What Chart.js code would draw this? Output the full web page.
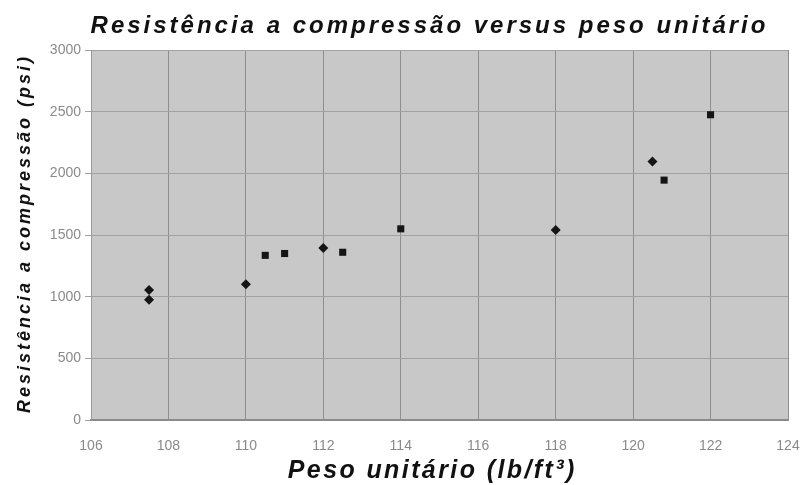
<!DOCTYPE html>
<html>
<head>
<meta charset="utf-8">
<script src="https://cdn.jsdelivr.net/npm/chart.js@4/dist/chart.umd.min.js"></script>
<style>
  html, body { margin: 0; padding: 0; background: #ffffff; }
  #wrap { width: 800px; height: 485px; position: relative; }
  canvas { display: block; }
</style>
</head>
<body>
<div id="wrap"><canvas id="chart" width="800" height="485"></canvas></div>
<script>
// Peso unitário (lb/ft³) e resistência (psi) de cada corpo de prova
const seriesAX = [107.5, 107.5, 110.0, 112.0, 118.0, 120.5];
const seriesAY = [1055, 975, 1100, 1395, 1540, 2095];
const seriesBX = [110.5, 111.0, 112.5, 114.0, 120.8, 122.0];
const seriesBY = [1335, 1350, 1360, 1550, 1945, 2475];

const xTickValues = [106, 108, 110, 112, 114, 116, 118, 120, 122, 124];
const yTickValues = [0, 500, 1000, 1500, 2000, 2500, 3000];

const chartTitle = 'Resistência a compressão versus peso unitário';
const xTitle = 'Peso unitário (lb/ft³)';
const yTitle = 'Resistência a compressão (psi)';

const toPoints = (xs, ys) => xs.map((x, i) => ({ x: x, y: ys[i] }));

// Fundo cinza da área de plotagem
const plotBackground = {
  id: 'plotBackground',
  beforeDraw(chart) {
    const { ctx, chartArea: a } = chart;
    ctx.save();
    ctx.fillStyle = '#c8c8c8';
    ctx.fillRect(a.left, a.top, a.right - a.left, a.bottom - a.top);
    ctx.restore();
  }
};

// Títulos em itálico negrito com espaçamento entre letras
const spacedTitles = {
  id: 'spacedTitles',
  afterDraw(chart) {
    const { ctx, chartArea: a } = chart;
    const draw = (text, font, spacing, x, y, rot) => {
      ctx.save();
      ctx.font = font;
      ctx.letterSpacing = spacing + 'px';
      ctx.fillStyle = '#111111';
      ctx.textAlign = 'center';
      ctx.textBaseline = 'alphabetic';
      ctx.translate(x, y);
      if (rot) ctx.rotate(rot);
      ctx.fillText(text, spacing / 2, 0);
      ctx.restore();
    };
    draw(chartTitle, 'italic bold 24px "Liberation Sans", Arial, sans-serif', 3, 428, 33, 0);
    draw(xTitle, 'italic bold 25px "Liberation Sans", Arial, sans-serif', 2.4, 431, 478, 0);
    draw(yTitle, 'italic bold 18px "Liberation Sans", Arial, sans-serif', 3, 29.5, (a.top + a.bottom) / 2, -Math.PI / 2);
  }
};

const tickFont = { family: '"Liberation Sans", Arial, sans-serif', size: 14 };

new Chart(document.getElementById('chart'), {
  type: 'scatter',
  data: {
    datasets: [
      {
        label: 'A',
        data: toPoints(seriesAX, seriesAY),
        pointStyle: 'rectRot',
        pointRadius: 5,
        backgroundColor: '#151515',
        borderColor: '#151515',
        borderWidth: 0
      },
      {
        label: 'B',
        data: toPoints(seriesBX, seriesBY),
        pointStyle: 'rect',
        pointRadius: 5,
        backgroundColor: '#151515',
        borderColor: '#151515',
        borderWidth: 0
      }
    ]
  },
  options: {
    responsive: false,
    animation: false,
    devicePixelRatio: 1,
    layout: { padding: { top: 50, right: 12, left: 0, bottom: 0 } },
    plugins: {
      legend: { display: false },
      tooltip: { enabled: false },
      title: { display: false }
    },
    scales: {
      x: {
        type: 'linear',
        min: 106,
        max: 124,
        afterBuildTicks(scale) { scale.ticks = xTickValues.map(v => ({ value: v })); },
        afterFit(scale) {
          scale.height = 65;
          scale.paddingLeft = 0;
          scale.paddingRight = 0;
        },
        grid: { color: '#8e8e8e', lineWidth: 1, drawTicks: false },
        border: { display: true, color: '#8a8a8a', width: 2 },
        ticks: {
          padding: 18,
          maxRotation: 0,
          minRotation: 0,
          autoSkip: false,
          color: '#8a8a8a',
          font: tickFont,
          callback: v => String(v)
        }
      },
      y: {
        type: 'linear',
        min: 0,
        max: 3000,
        afterBuildTicks(scale) { scale.ticks = yTickValues.map(v => ({ value: v })); },
        afterFit(scale) { scale.width = 91; },
        grid: { color: '#a2a2a2', lineWidth: 1, drawTicks: true, tickLength: 6 },
        border: { display: true, color: '#9a9a9a', width: 1 },
        ticks: {
          padding: 4,
          autoSkip: false,
          color: '#8a8a8a',
          font: tickFont,
          callback: v => String(v)
        }
      }
    }
  },
  plugins: [plotBackground, spacedTitles]
});
</script>
</body>
</html>
